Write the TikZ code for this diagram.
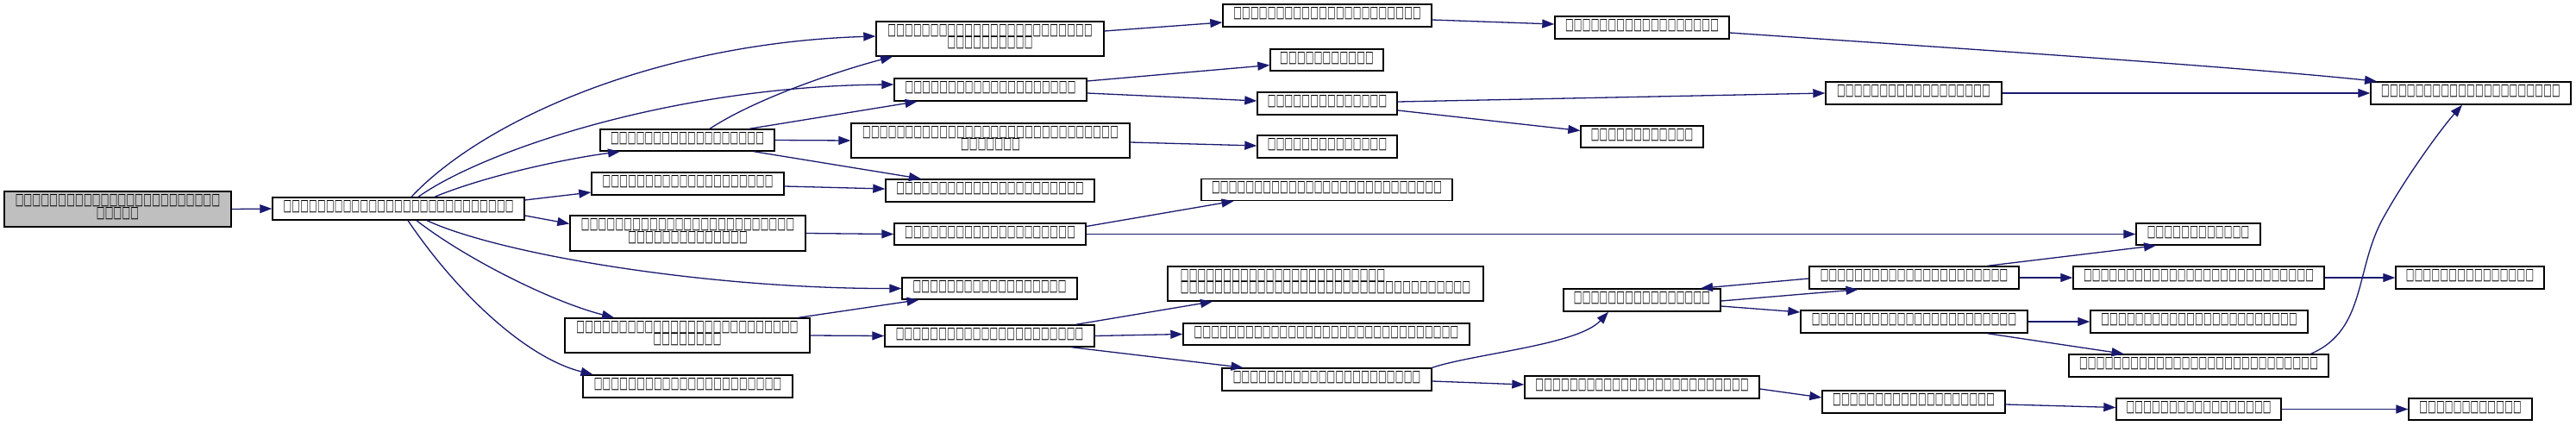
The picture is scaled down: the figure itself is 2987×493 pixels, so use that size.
\documentclass[tikz,border=0pt]{standalone}
\usepackage{fontspec}
\usepackage{graphicx}
\usetikzlibrary{arrows.meta}
\newfontfamily\tofufont{DejaVu Sans}
\newcommand\tglyph{\makebox[9.9pt]{\resizebox{9.6pt}{12pt}{\tofufont\bfseries □}}}
\ExplSyntaxOn
\cs_new:Npn \tfu #1 {\prg_replicate:nn{#1}{\tglyph}}
\ExplSyntaxOff
\definecolor{edgeblue}{RGB}{25,25,112}
\definecolor{rootgray}{RGB}{191,191,191}
\tikzset{
  box/.style={draw=black, line width=1.4pt, fill=white, inner sep=0pt, align=center,
    text depth=7pt, font=\fontsize{10pt}{14.5pt}\selectfont},
  rootbox/.style={box, fill=rootgray},
  edge/.style={draw=edgeblue, line width=1.3pt, -{Triangle[length=14pt,width=10pt]}}
}
\begin{document}
\begin{tikzpicture}[x=1pt,y=-1pt]
\useasboundingbox (0,0) rectangle (2987,493);
% nodes
\node[rootbox, minimum width=263, minimum height=41] (Root) at (136.5,242.5) {\tfu{24}\\\tfu{5}};
\node[box, minimum width=292, minimum height=26] (N1) at (462,242) {\tfu{27}};
\node[box, minimum width=264, minimum height=40] (A) at (1148,45) {\tfu{24}\\\tfu{10}};
\node[box, minimum width=223, minimum height=26] (B) at (1148.5,104) {\tfu{20}};
\node[box, minimum width=202, minimum height=25] (C) at (797,162.5) {\tfu{18}};
\node[box, minimum width=323, minimum height=40] (E) at (1148.5,163) {\tfu{30}\\\tfu{7}};
\node[box, minimum width=223, minimum height=26] (D) at (797.5,213) {\tfu{20}};
\node[box, minimum width=242, minimum height=26] (F) at (1148,221) {\tfu{22}};
\node[box, minimum width=273, minimum height=41] (G) at (797.5,270.5) {\tfu{25}\\\tfu{14}};
\node[box, minimum width=222, minimum height=25] (H) at (1148,271.5) {\tfu{20}};
\node[box, minimum width=203, minimum height=25] (I) at (1147.5,334.5) {\tfu{18}};
\node[box, minimum width=284, minimum height=40] (J) at (797,389) {\tfu{26}\\\tfu{8}};
\node[box, minimum width=243, minimum height=25] (K) at (1147.5,389.5) {\tfu{22}};
\node[box, minimum width=243, minimum height=26] (L) at (797.5,448) {\tfu{22}};
\node[box, minimum width=242, minimum height=26] (M) at (1539,18) {\tfu{22}};
\node[box, minimum width=131, minimum height=25] (N) at (1538.5,69.5) {\tfu{11}};
\node[box, minimum width=162, minimum height=26] (O) at (1539,120) {\tfu{14}};
\node[box, minimum width=162, minimum height=26] (P) at (1539,170) {\tfu{14}};
\node[box, minimum width=291, minimum height=25] (Q) at (1538.5,220) {\tfu{27}};
\node[box, minimum width=366, minimum height=40, align=left] (R) at (1537,329) {\tfu{24}\\\tfu{34}};
\node[box, minimum width=332, minimum height=25] (S) at (1538,387.5) {\tfu{31}};
\node[box, minimum width=243, minimum height=26] (T) at (1538.5,440) {\tfu{22}};
\node[box, minimum width=202, minimum height=26] (U) at (1904,32) {\tfu{18}};
\node[box, minimum width=204, minimum height=26] (V) at (2219,108) {\tfu{18}};
\node[box, minimum width=142, minimum height=25] (W) at (1904,158.5) {\tfu{12}};
\node[box, minimum width=232, minimum height=26] (X) at (2865,108) {\tfu{21}};
\node[box, minimum width=144, minimum height=25] (Y) at (2549,271.5) {\tfu{12}};
\node[box, minimum width=182, minimum height=26] (Z) at (1904,348) {\tfu{16}};
\node[box, minimum width=243, minimum height=26] (AA) at (2219.5,322) {\tfu{22}};
\node[box, minimum width=263, minimum height=26] (AB) at (2219.5,373) {\tfu{24}};
\node[box, minimum width=272, minimum height=26] (AC) at (1904,449) {\tfu{25}};
\node[box, minimum width=291, minimum height=26] (AD) at (2549.5,322) {\tfu{27}};
\node[box, minimum width=252, minimum height=26] (AE) at (2550,373) {\tfu{23}};
\node[box, minimum width=301, minimum height=26] (AF) at (2549.5,424) {\tfu{28}};
\node[box, minimum width=212, minimum height=26] (AG) at (2219,466) {\tfu{19}};
\node[box, minimum width=191, minimum height=25] (AH) at (2549.5,474.5) {\tfu{17}};
\node[box, minimum width=172, minimum height=26] (AI) at (2864,322) {\tfu{15}};
\node[box, minimum width=143, minimum height=25] (AJ) at (2864.5,474.5) {\tfu{12}};
% edges
\draw[edge] (Root.east) -- (N1.west);
\draw[edge] ([xshift=15]N1.north) .. controls (560,140) and (760,50) .. ([yshift=3]A.west);
\draw[edge] ([xshift=23]N1.north) .. controls (560,175) and (780,100) .. ([yshift=6]B.west);
\draw[edge] ([xshift=42]N1.north) .. controls (560,205) and (650,185) .. ([xshift=-78]C.south);
\draw[edge] ([yshift=10]N1.east) -- ([yshift=-10]D.west);
\draw[edge] ([yshift=-8]N1.east) -- ([yshift=11]G.west);
\draw[edge] ([xshift=33]N1.south) .. controls (580,295) and (820,335) .. (I.west);
\draw[edge] ([xshift=21]N1.south) .. controls (540,300) and (640,350) .. ([xshift=-85]J.north);
\draw[edge] ([xshift=11]N1.south) .. controls (530,340) and (610,415) .. ([xshift=-110]L.north);
\draw[edge] ([xshift=26]C.north) .. controls (880,112) and (980,80) .. ([xshift=-113]A.south);
\draw[edge] ([xshift=72]C.north) -- ([xshift=-85]B.south);
\draw[edge] (C.east) -- (E.west);
\draw[edge] ([xshift=77]C.south) -- ([xshift=-80]F.north);
\draw[edge] ([yshift=-3]D.east) -- ([yshift=2]F.west);
\draw[edge] ([yshift=9]A.east) -- ([yshift=-8]M.west);
\draw[edge] ([yshift=-5]M.east) -- ([yshift=4]U.west);
\draw[edge] ([yshift=-6]U.east) .. controls (2300,58) and (2600,78) .. ([xshift=-109]X.north);
\draw[edge] ([yshift=10]B.east) -- ([yshift=-6]N.west);
\draw[edge] ([yshift=-4]B.east) -- ([yshift=3]O.west);
\draw[edge] ([yshift=2]O.east) -- (V.west);
\draw[edge] ([yshift=-8]O.east) -- ([yshift=7]W.west);
\draw[edge] (V.east) -- (X.west);
\draw[edge] ([yshift=-2]E.east) -- ([yshift=1]P.west);
\draw[edge] (G.east) -- (H.west);
\draw[edge] ([yshift=9]H.east) -- ([xshift=-108]Q.south);
\draw[edge] (H.east) -- (Y.west);
\draw[edge] ([xshift=129]J.north) -- ([xshift=-82]I.south);
\draw[edge] (J.east) -- (K.west);
\draw[edge] ([xshift=100]K.north) -- ([xshift=-131]R.south);
\draw[edge] (K.east) -- (S.west);
\draw[edge] ([xshift=95]K.south) -- ([xshift=-97]T.north);
\draw[edge] (T.north east) .. controls (1710,410) and (1830,400) .. ([xshift=-39]Z.south);
\draw[edge] ([yshift=-2]T.east) -- ([yshift=3]AC.west);
\draw[edge] ([yshift=-1]Z.east) -- ([xshift=-65]AA.south);
\draw[edge] ([yshift=-1]AA.west) -- ([xshift=68]Z.north);
\draw[edge] ([yshift=-7]Z.east) -- ([yshift=11]AB.west);
\draw[edge] ([xshift=85]AA.north) -- ([xshift=-49]Y.south);
\draw[edge] (AA.east) -- (AD.west);
\draw[edge] (AD.east) -- (AI.west);
\draw[edge] (AB.east) -- (AE.west);
\draw[edge] ([xshift=85]AB.south) -- ([xshift=-87]AF.north);
\draw[edge] ([xshift=130]AF.north) .. controls (2745,382) and (2730,310) .. (2765,250) .. controls (2790,205) and (2830,150) .. ([xshift=-10]X.south);
\draw[edge] ([yshift=-2]AC.east) -- ([yshift=5]AG.west);
\draw[edge] ([yshift=-3]AG.east) -- ([yshift=2]AH.west);
\draw[edge] (AH.east) -- (AJ.west);
\end{tikzpicture}
\end{document}
